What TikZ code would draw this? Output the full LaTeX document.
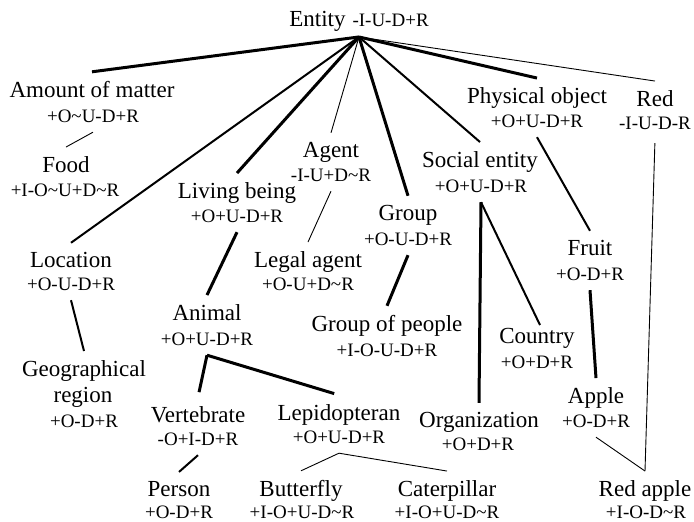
\documentclass[tikz,border=0pt]{standalone}
\usepackage{fontspec}
\setmainfont{Liberation Serif}
\tikzset{
  nm/.style={font=\fontsize{23}{27}\selectfont, inner sep=0pt, outer ysep=9pt, anchor=base},
  pr/.style={font=\fontsize{19}{22}\selectfont, inner sep=0pt, outer ysep=10pt, anchor=base},
  thk/.style={line width=3pt},
  med/.style={line width=2pt},
  thn/.style={line width=0.9pt}
}
\newcommand{\tld}{\textasciitilde}
\begin{document}
\begin{tikzpicture}[x=1pt,y=-1pt]
\useasboundingbox (0,0) rectangle (694,522);
% root
\node[anchor=base, inner sep=0pt, outer ysep=6pt] (entity) at (359,26)
  {{\fontsize{23}{27}\selectfont Entity}\hspace{7pt}{\fontsize{19}{22}\selectfont -I-U-D+R}};
% level nodes
\node[nm] (amount) at (92,97) {Amount of matter};
\node[pr] (amount-p) at (93,122) {+O\tld U-D+R};
\node[nm] (food) at (66,172) {Food};
\node[pr] (food-p) at (65,196) {+I-O\tld U+D\tld R};
\node[nm] (agent) at (331,157) {Agent};
\node[pr] (agent-p) at (331,181) {-I-U+D\tld R};
\node[nm] (living) at (237,198) {Living being};
\node[pr] (living-p) at (237,222) {+O+U-D+R};
\node[nm] (location) at (71,267) {Location};
\node[pr] (location-p) at (71,290) {+O-U-D+R};
\node[nm] (legal) at (308,267) {Legal agent};
\node[pr] (legal-p) at (308,290) {+O-U+D\tld R};
\node[nm] (animal) at (207,320) {Animal};
\node[pr] (animal-p) at (207,345) {+O+U-D+R};
\node[nm] (group) at (408,220) {Group};
\node[pr] (group-p) at (408,245) {+O-U-D+R};
\node[nm] (gop) at (387,331) {Group of people};
\node[pr] (gop-p) at (387,356) {+I-O-U-D+R};
\node[nm] (social) at (480,167) {Social entity};
\node[pr] (social-p) at (481,192) {+O+U-D+R};
\node[nm] (physical) at (537,103) {Physical object};
\node[pr] (physical-p) at (537,127) {+O+U-D+R};
\node[nm] (red) at (655,106) {Red};
\node[pr] (red-p) at (655,129) {-I-U-D-R};
\node[nm] (fruit) at (590,255) {Fruit};
\node[pr] (fruit-p) at (590,280) {+O-D+R};
\node[nm] (country) at (537,343) {Country};
\node[pr] (country-p) at (537,368) {+O+D+R};
\node[nm] (apple) at (596,403) {Apple};
\node[pr] (apple-p) at (596,427) {+O-D+R};
\node[nm] (organization) at (479,427) {Organization};
\node[pr] (organization-p) at (478,450) {+O+D+R};
\node[nm] (geo) at (84,376) {Geographical};
\node[nm] (geo2) at (83,402) {region};
\node[pr] (geo-p) at (84,427) {+O-D+R};
\node[nm] (vertebrate) at (198,422) {Vertebrate};
\node[pr] (vertebrate-p) at (198,445) {-O+I-D+R};
\node[nm] (lep) at (339,420) {Lepidopteran};
\node[pr] (lep-p) at (339,443) {+O+U-D+R};
\node[nm] (person) at (179,496) {Person};
\node[pr] (person-p) at (179,518) {+O-D+R};
\node[nm] (butterfly) at (301,496) {Butterfly};
\node[pr] (butterfly-p) at (302,518) {+I-O+U-D\tld R};
\node[nm] (caterpillar) at (447,496) {Caterpillar};
\node[pr] (caterpillar-p) at (447,518) {+I-O+U-D\tld R};
\node[nm] (redapple) at (645,496) {Red apple};
\node[pr] (redapple-p) at (646,518) {+I-O-D\tld R};
% connectors from root
\draw[thk] (entity.south) -- (amount.north);
\draw[med] (entity.south) -- (location.north);
\draw[thk] (entity.south) -- (living.north);
\draw[thn] (entity.south) -- (agent.north);
\draw[thk] (entity.south) -- (group.north);
\draw[med] (entity.south) -- (social.north);
\draw[thk] (entity.south) -- (physical.north);
\draw[thn] (entity.south) -- (red.north);
% other connectors
\draw[thn] (amount-p.south) -- (food.north);
\draw[thn] (agent-p.south) -- (legal.north);
\draw[thk] (living-p.south) -- (animal.north);
\draw[med] (location-p.south) -- (geo.north);
\draw[thk] (group-p.south) -- (gop.north);
\draw[med, shorten >=-7pt] (social-p.south) -- (country.north);
\draw[thk] (social-p.south) -- (organization.north);
\draw[med] (physical-p.south) -- (fruit.north);
\draw[thk] (fruit-p.south) -- (apple.north);
\draw[thn, shorten <=4pt] (red-p.south) -- (redapple.north);
\draw[thn] (apple-p.south) -- (redapple.north);
\draw[thk, shorten >=5pt] (animal-p.south) -- (vertebrate.north);
\draw[thk, shorten >=5pt] (animal-p.south) -- (lep.north);
\draw[med] (vertebrate-p.south) -- (person.north);
\draw[thn] (lep-p.south) -- (butterfly.north);
\draw[thn] (lep-p.south) -- (caterpillar.north);
\end{tikzpicture}
\end{document}
